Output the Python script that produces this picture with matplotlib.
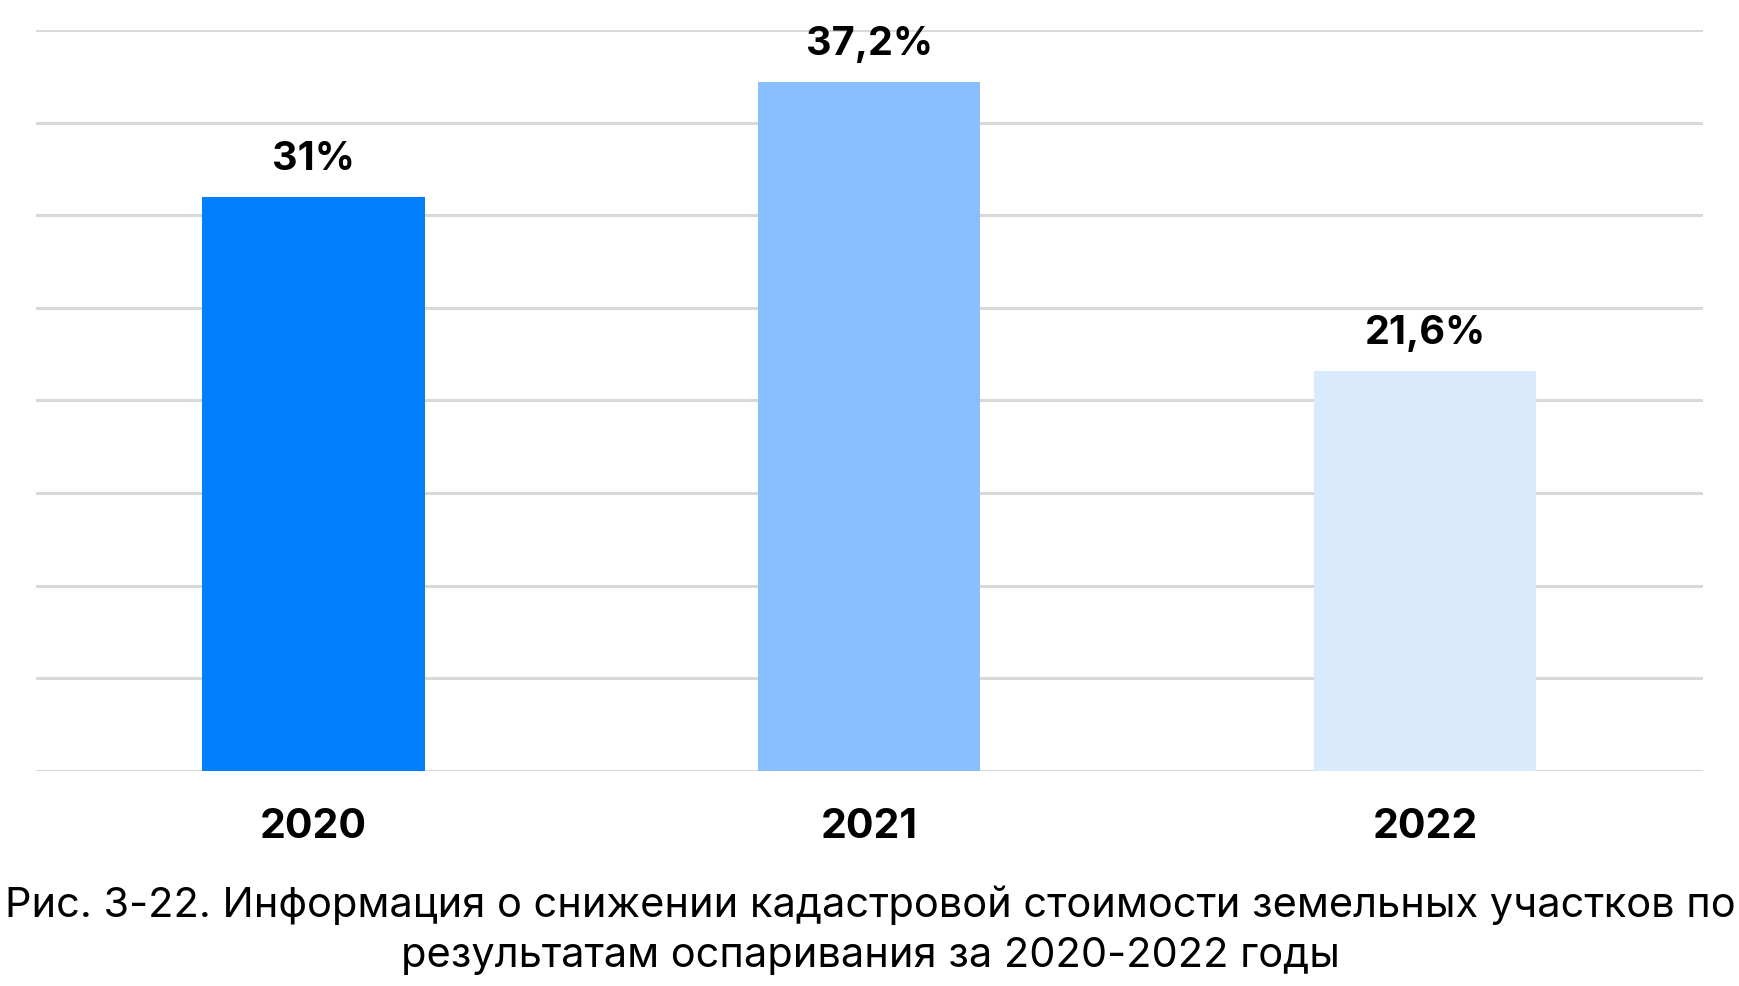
import matplotlib
matplotlib.use("Agg")
import matplotlib.pyplot as plt

categories = ["2020", "2021", "2022"]
values = [31.0, 37.2, 21.6]
labels = ["31%", "37,2%", "21,6%"]
colors = ["#007FFF", "#8ABFFF", "#D9EAFD"]
caption = ("Рис. 3-22. Информация о снижении кадастровой стоимости земельных участков по\n"
           "результатам оспаривания за 2020-2022 годы")

plt.rcParams['font.family'] = ['Inter', 'DejaVu Sans']

W, H = 1740, 986
fig = plt.figure(figsize=(W / 100, H / 100), dpi=100)
left, right, top, bottom = 35.5, 1703, 30, 771
ax = fig.add_axes([left / W, 1 - bottom / H, (right - left) / W, (bottom - top) / H])

x = list(range(len(categories)))
ax.bar(x, values, width=0.4, color=colors, zorder=3)
ax.set_xlim(-0.5, len(categories) - 0.5)
ax.set_ylim(0, 40)
ax.set_yticks(range(0, 41, 5))
ax.yaxis.grid(True, color="#D9D9D9", linewidth=2.2, zorder=0)
ax.tick_params(axis='y', left=False, labelleft=False)
ax.tick_params(axis='x', bottom=False, pad=23)
ax.set_xticks(x)
ax.set_xticklabels(categories, fontsize=29.5, fontweight='bold')
for s in ax.spines.values():
    s.set_visible(False)

for xi, v, lab in zip(x, values, labels):
    ax.annotate(lab, (xi, v), xytext=(0, 19.5), textcoords='offset points',
                ha='center', va='baseline', fontsize=28.5, fontweight='bold')

fig.text(0.5, 1 - 930 / H, caption, ha='center', va='center', fontsize=29.9,
         linespacing=1.4)

fig.savefig("out.png", dpi=100, facecolor="white")
